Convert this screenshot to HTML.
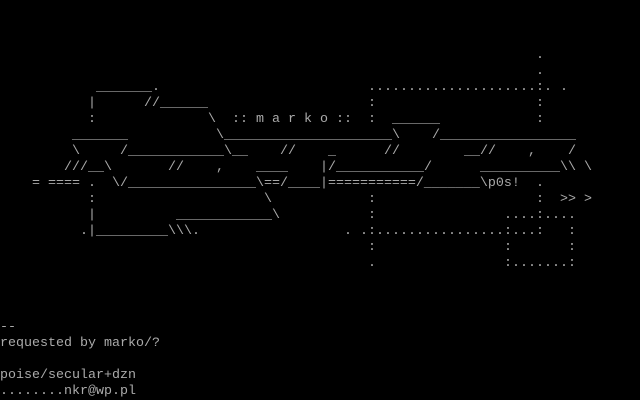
<!DOCTYPE html>
<html><head><meta charset="utf-8"><style>
html,body{margin:0;padding:0;background:#000;width:640px;height:400px;overflow:hidden}
#s{position:relative;width:640px;height:400px}
#s div{position:absolute;white-space:pre;font-family:"Liberation Mono",monospace;font-size:13.33px;line-height:16px;height:16px;color:#aaa}
</style></head><body><div id="s">
<div style="left:536px;top:48px">.</div>
<div style="left:536px;top:64px">.</div>
<div style="left:96px;top:80px">_______.</div>
<div style="left:368px;top:80px">.....................:. .</div>
<div style="left:88px;top:96px">|</div>
<div style="left:144px;top:96px">//______</div>
<div style="left:368px;top:96px">:</div>
<div style="left:536px;top:96px">:</div>
<div style="left:88px;top:112px">:</div>
<div style="left:208px;top:112px">\</div>
<div style="left:232px;top:112px">:: m a r k o ::</div>
<div style="left:368px;top:112px">:</div>
<div style="left:392px;top:112px">______</div>
<div style="left:536px;top:112px">:</div>
<div style="left:72px;top:128px">_______</div>
<div style="left:216px;top:128px">\_____________________\</div>
<div style="left:432px;top:128px">/_________________</div>
<div style="left:72px;top:144px">\</div>
<div style="left:120px;top:144px">/____________\__</div>
<div style="left:280px;top:144px">//</div>
<div style="left:328px;top:144px">_</div>
<div style="left:384px;top:144px">//</div>
<div style="left:464px;top:144px">__//</div>
<div style="left:528px;top:144px">,</div>
<div style="left:568px;top:144px">/</div>
<div style="left:64px;top:160px">///__\</div>
<div style="left:168px;top:160px">//</div>
<div style="left:216px;top:160px">,</div>
<div style="left:256px;top:160px">____</div>
<div style="left:320px;top:160px">|/___________/</div>
<div style="left:480px;top:160px">__________\\</div>
<div style="left:584px;top:160px">\</div>
<div style="left:32px;top:176px">=</div>
<div style="left:48px;top:176px">====</div>
<div style="left:88px;top:176px">.</div>
<div style="left:112px;top:176px">\/________________\==/____|===========/_______\p0s!</div>
<div style="left:536px;top:176px">.</div>
<div style="left:88px;top:192px">:</div>
<div style="left:264px;top:192px">\</div>
<div style="left:368px;top:192px">:</div>
<div style="left:536px;top:192px">:</div>
<div style="left:560px;top:192px">&gt;&gt; &gt;</div>
<div style="left:88px;top:208px">|</div>
<div style="left:176px;top:208px">____________\</div>
<div style="left:368px;top:208px">:</div>
<div style="left:504px;top:208px">....:....</div>
<div style="left:80px;top:224px">.|_________\\\.</div>
<div style="left:344px;top:224px">. .:................:...:</div>
<div style="left:568px;top:224px">:</div>
<div style="left:368px;top:240px">:</div>
<div style="left:504px;top:240px">:</div>
<div style="left:568px;top:240px">:</div>
<div style="left:368px;top:256px">.</div>
<div style="left:504px;top:256px">:.......:</div>
<div style="left:0px;top:320px">--</div>
<div style="left:0px;top:336px">requested by marko/?</div>
<div style="left:0px;top:368px">poise/secular+dzn</div>
<div style="left:0px;top:384px">........nkr@wp.pl</div>
</div></body></html>
